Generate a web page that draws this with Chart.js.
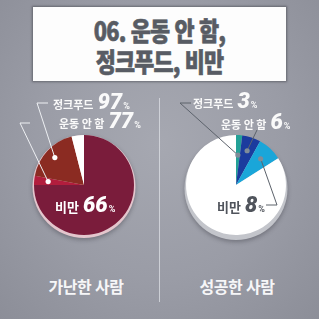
<!DOCTYPE html>
<html lang="ko">
<head>
<meta charset="utf-8">
<title>06. 운동 안 함, 정크푸드, 비만</title>
<script src="https://cdn.jsdelivr.net/npm/chart.js"></script>
<style>
  html, body { margin: 0; padding: 0; }
  body {
    width: 319px; height: 319px; position: relative; overflow: hidden;
    background: radial-gradient(ellipse at 50% 45%, #a6a8b1 0%, #9a9ca6 55%, #8c8e98 100%);
    font-family: "Noto Sans CJK KR", sans-serif;
  }
  #title {
    position: absolute; left: 33px; top: 7px; width: 253px; height: 74px;
    background: #fdfdfd; box-shadow: 0 0 2px 1px rgba(60,62,70,0.55);
    text-align: center; color: #585c64; font-weight: 900; font-size: 26px;
    line-height: 31px; letter-spacing: -1px; word-spacing: 0;
    -webkit-text-stroke: 0.6px #585c64;
  }
  #title div { transform: scaleX(0.84); }
  #title .l1 { margin-top: 7px; }
  .divider { position: absolute; left: 159px; top: 98px; width: 1px; height: 204px; background: rgba(222,224,230,0.75); }
  canvas { position: absolute; top: 85px; }
  #poor { left: 0; }
  #rich { left: 160px; }
  .cap {
    position: absolute; top: 274px; width: 160px; text-align: center;
    color: #f6f6f8; font-weight: bold; font-size: 16px; letter-spacing: -0.5px;
  }
</style>
</head>
<body>
<div id="title"><div class="l1">06. 운동 안 함,</div><div>정크푸드, 비만</div></div>
<div class="divider"></div>
<canvas id="poor" width="160" height="170"></canvas>
<canvas id="rich" width="159" height="170"></canvas>
<div class="cap" style="left:6px">가난한 사람</div>
<div class="cap" style="left:157px">성공한 사람</div>

<script>
// group names and the percentages printed next to each pie
const groups = ['가난한 사람', '성공한 사람'];
const itemNames = ['정크푸드', '운동 안 함', '비만'];
const poorValues = [97, 77, 66];
const richValues = [3, 6, 8];

// slice sizes as drawn in the picture (clockwise from 12 o'clock)
const poorSlices = [75, 3, 18, 4];      // 비만, 운동 안 함, 정크푸드, rest
const richSlices = [2, 6, 8, 84];       // 정크푸드, 운동 안 함, 비만, rest

const poorColors = ['#7a1c3b', '#b21d3d', '#8b2b22', '#ffffff'];
const richColors = ['#23a197', '#1b3b9e', '#1aa6d9', '#ffffff'];

const numFont = 'italic 900 22px Roboto';
const hanFont = 'bold 11px "Noto Sans CJK KR"';

// draws the light rim / 3d edge under the pie
const rimPlugin = {
  id: 'rim',
  beforeDatasetsDraw(chart, args, opts) {
    const arc = chart.getDatasetMeta(0).data[0];
    const ctx = chart.ctx;
    ctx.save();
    ctx.shadowColor = 'rgba(40,40,50,0.35)';
    ctx.shadowBlur = 4;
    ctx.shadowOffsetY = 2;
    ctx.fillStyle = opts.color;
    ctx.beginPath();
    ctx.arc(arc.x, arc.y + opts.drop, arc.outerRadius + 1.5, 0, Math.PI * 2);
    ctx.fill();
    ctx.restore();
  }
};

// callout labels with dot + leader line
const calloutPlugin = {
  id: 'callouts',
  afterDatasetsDraw(chart, args, opts) {
    const ctx = chart.ctx;
    const meta = chart.getDatasetMeta(0);
    ctx.save();
    opts.items.forEach(it => {
      if (it.slice != null) {
        const a = meta.data[it.slice];
        const mid = (a.startAngle + a.endAngle) / 2;
        const dx = a.x + Math.cos(mid) * a.outerRadius * it.r;
        const dy = a.y + Math.sin(mid) * a.outerRadius * it.r;
        ctx.strokeStyle = opts.lineColor;
        ctx.lineWidth = 1;
        ctx.beginPath();
        ctx.moveTo(dx, dy);
        ctx.lineTo(it.elbow[0], it.elbow[1]);
        if (it.tick != null) ctx.lineTo(it.tick, it.elbow[1]);
        ctx.stroke();
        ctx.fillStyle = opts.dotColor;
        ctx.beginPath();
        ctx.arc(dx, dy, 2.6, 0, Math.PI * 2);
        ctx.fill();
      }
      // text parts on one baseline
      let x = it.pos[0];
      const y = it.pos[1];
      ctx.textBaseline = 'alphabetic';
      ctx.textAlign = 'left';
      ctx.fillStyle = it.color;
      ctx.font = it.hanFont || hanFont;
      ctx.fillText(it.name, x, y);
      x += ctx.measureText(it.name).width + 4;
      ctx.font = numFont;
      ctx.fillText(String(it.value), x, y);
      x += ctx.measureText(String(it.value)).width + 1;
      ctx.font = 'bold 9px Roboto';
      ctx.fillText('%', x, y);
    });
    ctx.restore();
  }
};

function makePie(id, slices, colors, pad, rim, callouts) {
  return new Chart(document.getElementById(id), {
    type: 'pie',
    data: {
      labels: slices.map((_, i) => i),
      datasets: [{ data: slices, backgroundColor: colors, borderWidth: 0 }]
    },
    options: {
      responsive: false,
      animation: false,
      layout: { padding: pad },
      plugins: {
        legend: { display: false },
        tooltip: { enabled: false },
        rim: rim,
        callouts: callouts
      }
    },
    plugins: [rimPlugin, calloutPlugin]
  });
}

makePie('poor', poorSlices, poorColors,
  { left: 34, right: 26, top: 50, bottom: 20 },
  { color: '#e4c6cd', drop: 1.5 },
  {
    lineColor: '#eef0f3', dotColor: '#ffffff',
    items: [
      { slice: 2, r: 0.8, elbow: [37, 18], tick: 48, pos: [53, 23.5], name: itemNames[0], value: poorValues[0], color: '#fafafa' },
      { slice: 1, r: 0.72, elbow: [20, 38], tick: 30, pos: [59, 43], name: itemNames[1], value: poorValues[1], color: '#fafafa' },
      { slice: null, pos: [55, 127], name: itemNames[2], value: poorValues[2], color: '#ffffff', hanFont: 'bold 13px "Noto Sans CJK KR"' }
    ]
  });

makePie('rich', richSlices, richColors,
  { left: 26, right: 33, top: 50, bottom: 20 },
  { color: '#c3c5cb', drop: 3.5 },
  {
    lineColor: '#5c626b', dotColor: '#7f8c99',
    items: [
      { slice: 0, r: 0.6, elbow: [20, 18], tick: 31, pos: [33, 23], name: itemNames[0], value: richValues[0], color: '#fafafa' },
      { slice: 1, r: 0.72, elbow: [97, 45], tick: null, pos: [61, 44], name: itemNames[1], value: richValues[1], color: '#fafafa' },
      { slice: 2, r: 0.72, elbow: [117, 120], tick: 106, pos: [57, 127], name: itemNames[2], value: richValues[2], color: '#50545c', hanFont: 'bold 13px "Noto Sans CJK KR"' }
    ]
  });
</script>
</body>
</html>
